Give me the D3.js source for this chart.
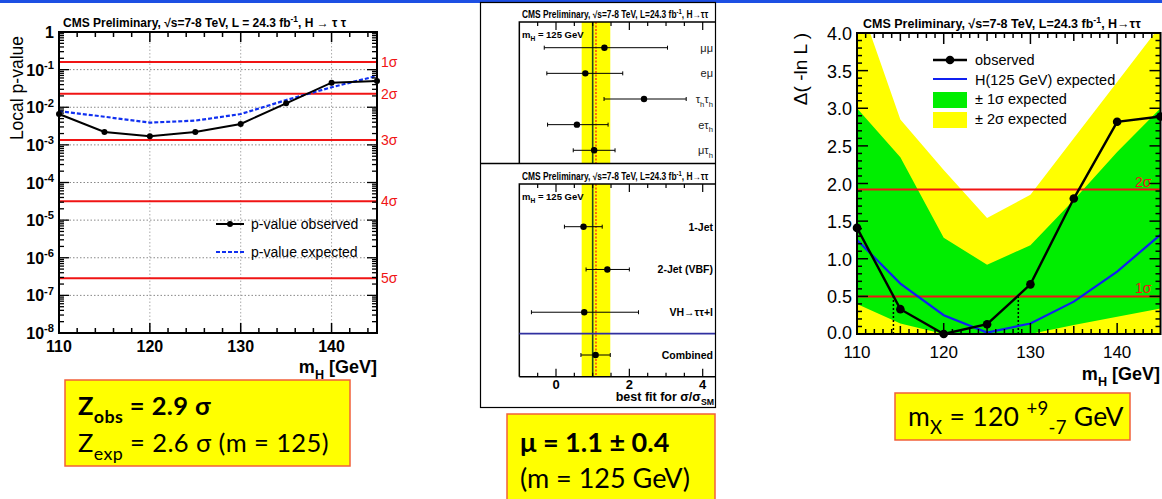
<!DOCTYPE html>
<html>
<head>
<meta charset="utf-8">
<script src="https://cdn.jsdelivr.net/npm/d3@7"></script>
<style>
body { margin: 0; background: #fff; }
svg { display: block; font-family: "Liberation Sans", Arial, sans-serif; }
</style>
</head>
<body>
<svg></svg>
<script>
// ---------- data ----------
const masses = [110, 115, 120, 125, 130, 135, 140, 145];

// left: local p-value scan
const pObserved = [6.6e-3, 2.2e-3, 1.7e-3, 2.2e-3, 3.6e-3, 1.27e-2, 0.045, 0.050];
const pExpected = [7.9e-3, 5.6e-3, 3.9e-3, 4.4e-3, 6.6e-3, 0.0155, 0.034, 0.068];
const sigmaLabels = ["1σ", "2σ", "3σ", "4σ", "5σ"];
const sigmaP = [0.1587, 0.02275, 1.35e-3, 3.17e-5, 2.87e-7];
const pExponents = [0, -1, -2, -3, -4, -5, -6, -7, -8];
const pMassTicks = [110, 120, 130, 140];

// middle: best fit signal strength per channel / category
const channels = ["μμ", "eμ", "τ_{h}τ_{h}", "eτ_{h}", "μτ_{h}"];
const channelMu = [1.32, 0.80, 2.40, 0.57, 1.04];
const channelLo = [-0.32, -0.25, 1.31, -0.23, 0.47];
const channelHi = [3.04, 1.82, 3.55, 1.42, 1.61];
const categories = ["1-Jet", "2-Jet (VBF)", "VH→ττ+l", "Combined"];
const categoryMu = [0.75, 1.40, 0.77, 1.08];
const categoryLo = [0.23, 0.82, -0.67, 0.68];
const categoryHi = [1.26, 2.00, 2.25, 1.48];
const muBand = [0.70, 1.48];
const muBest = 1.09;
const muSM = 1.0;
const muTickLabels = [0, 2, 4];

// right: likelihood scan
const nllObserved = [1.41, 0.33, 0.00, 0.13, 0.66, 1.80, 2.82, 2.89];
const nllExpected = [1.25, 0.67, 0.25, 0.02, 0.14, 0.43, 0.83, 1.32];
const band1Lo = [0.40, 0.14, 0.00, 0.00, 0.00, 0.12, 0.23, 0.34];
const band1Hi = [3.00, 2.35, 1.28, 0.92, 1.18, 1.78, 2.42, 3.00];
const band2Lo = [0, 0, 0, 0, 0, 0, 0, 0];
const band2Hi = [4.50, 2.85, 2.18, 1.54, 1.85, 2.60, 3.35, 4.10];
const nllSigma = [0.5, 1.92];
const nllSigmaLabels = ["1σ", "2σ"];
const nllCrossings = [114.2, 128.6];
const nllTicks = [0, 0.5, 1, 1.5, 2, 2.5, 3, 3.5, 4];
const nllMassTicks = [110, 120, 130, 140];

// ---------- setup ----------
const svg = d3.select("svg").attr("width", 1162).attr("height", 499);

// text with _{sub} and ^{sup} pieces
function richText(parent, x, y, str, size) {
    const t = parent.append("text").attr("x", x).attr("y", y).style("font-size", size + "px");
    const parts = str.split(/(_\{[^}]*\}|\^\{[^}]*\})/).filter(s => s.length);
    let shift = 0;
    parts.forEach(p => {
        let s = 0, fs = size, txt = p;
        if (p.startsWith("_{")) { s = size * 0.32; fs = size * 0.7; txt = p.slice(2, -1); }
        else if (p.startsWith("^{")) { s = -size * 0.42; fs = size * 0.7; txt = p.slice(2, -1); }
        t.append("tspan").attr("dy", s - shift).style("font-size", fs + "px").text(txt);
        shift = s;
    });
    return t;
}

svg.append("rect").attr("x", 0).attr("y", 0).attr("width", 1162).attr("height", 3).attr("fill", "#1d4fe3");

// ---------- left panel ----------
const xL = d3.scaleLinear().domain([110, 145]).range([59, 377]);
const yL = d3.scaleLog().domain([1e-8, 1]).range([333, 32]);
const left = svg.append("g");

// grid
pExponents.slice(1, -1).forEach(e => {
    left.append("line").attr("x1", xL(110)).attr("x2", xL(145))
        .attr("y1", yL(Math.pow(10, e))).attr("y2", yL(Math.pow(10, e)))
        .attr("stroke", "#888").attr("stroke-width", 1).attr("stroke-dasharray", "1.5,2");
});
pMassTicks.slice(1).forEach(m => {
    left.append("line").attr("x1", xL(m)).attr("x2", xL(m))
        .attr("y1", yL(1)).attr("y2", yL(1e-8))
        .attr("stroke", "#aaa").attr("stroke-width", 1).attr("stroke-dasharray", "1.5,2");
});

// sigma lines
sigmaP.forEach((p, i) => {
    left.append("line").attr("x1", xL(110)).attr("x2", xL(145))
        .attr("y1", yL(p)).attr("y2", yL(p))
        .attr("stroke", "#f01414").attr("stroke-width", 2);
    left.append("text").attr("x", xL(145) + 4).attr("y", yL(p) + 5)
        .attr("fill", "#f01414").style("font-size", "14px").text(sigmaLabels[i]);
});

// curves
left.append("path")
    .attr("d", d3.line().x((d, i) => xL(masses[i])).y(d => yL(d))(pExpected))
    .attr("fill", "none").attr("stroke", "#1030f0").attr("stroke-width", 2.2).attr("stroke-dasharray", "4,2");
left.append("path")
    .attr("d", d3.line().x((d, i) => xL(masses[i])).y(d => yL(d))(pObserved))
    .attr("fill", "none").attr("stroke", "#000").attr("stroke-width", 2);
left.selectAll("circle.obs").data(pObserved).enter().append("circle")
    .attr("class", "obs")
    .attr("cx", (d, i) => xL(masses[i])).attr("cy", d => yL(d)).attr("r", 3).attr("fill", "#000");

// frame + ticks
left.append("rect").attr("x", xL(110)).attr("y", yL(1))
    .attr("width", xL(145) - xL(110)).attr("height", yL(1e-8) - yL(1))
    .attr("fill", "none").attr("stroke", "#000").attr("stroke-width", 2);
d3.range(112, 145, 2).forEach(m => {
    const len = m % 10 === 0 ? 10 : 5;
    [[yL(1e-8), -len], [yL(1), len]].forEach(([y0, l]) => {
        left.append("line").attr("x1", xL(m)).attr("x2", xL(m)).attr("y1", y0).attr("y2", y0 + l)
            .attr("stroke", "#000").attr("stroke-width", 1.5);
    });
});
pExponents.slice(1).forEach(e => {
    d3.range(1, 10).forEach(k => {
        const v = k * Math.pow(10, e);
        const len = k === 1 ? 10 : 5;
        [[xL(110), len], [xL(145), -len]].forEach(([x0, l]) => {
            left.append("line").attr("x1", x0).attr("x2", x0 + l).attr("y1", yL(v)).attr("y2", yL(v))
                .attr("stroke", "#000").attr("stroke-width", 1.3);
        });
    });
});

// tick labels
pExponents.forEach(e => {
    const lab = e === 0 ? "1" : "10^{" + e + "}";
    richText(left, 54, yL(Math.pow(10, e)) + 6, lab, 16)
        .attr("text-anchor", "end").style("font-weight", "bold");
});
pMassTicks.forEach(m => {
    left.append("text").attr("x", xL(m)).attr("y", 352).attr("text-anchor", "middle")
        .style("font-size", "16px").style("font-weight", "bold").text(m);
});
richText(left, 377, 373, "m_{H} [GeV]", 18).attr("text-anchor", "end").style("font-weight", "bold");
left.append("text").attr("transform", "rotate(-90)").attr("x", -36).attr("y", 23)
    .attr("text-anchor", "end").style("font-size", "17.5px").text("Local p-value");
richText(left, 63, 27, "CMS  Preliminary, √s=7-8 TeV, L = 24.3 fb^{-1}, H → τ τ", 12)
    .style("font-weight", "bold");

// legend
left.append("line").attr("x1", 216).attr("x2", 244).attr("y1", 224).attr("y2", 224)
    .attr("stroke", "#000").attr("stroke-width", 2);
left.append("circle").attr("cx", 230).attr("cy", 224).attr("r", 3).attr("fill", "#000");
left.append("text").attr("x", 251).attr("y", 229).style("font-size", "14px").text("p-value observed");
left.append("line").attr("x1", 216).attr("x2", 244).attr("y1", 252).attr("y2", 252)
    .attr("stroke", "#1030f0").attr("stroke-width", 2.2).attr("stroke-dasharray", "4,2");
left.append("text").attr("x", 251).attr("y", 257).style("font-size", "14px").text("p-value expected");

// ---------- middle panel ----------
const xM = d3.scaleLinear().domain([0, 4]).range([556, 702.7]);
const yTop = d3.scalePoint().domain(channels).range([47.7, 150.3]);
const yBot = d3.scalePoint().domain(categories).range([226.7, 355]);
svg.append("clipPath").attr("id", "midclip").append("rect")
    .attr("x", 480).attr("y", 2).attr("width", 236).attr("height", 406);
const mid = svg.append("g").attr("clip-path", "url(#midclip)");

function muPanel(top, bottom, yS, labels, mu, lo, hi, bold, showAxis) {
    mid.append("rect").attr("x", xM(muBand[0])).attr("y", top)
        .attr("width", xM(muBand[1]) - xM(muBand[0])).attr("height", bottom - top).attr("fill", "#ffff00");
    mid.append("line").attr("x1", xM(muSM)).attr("x2", xM(muSM)).attr("y1", top).attr("y2", bottom)
        .attr("stroke", "#1f4a1f").attr("stroke-width", 1.6);
    mid.append("line").attr("x1", xM(muBest)).attr("x2", xM(muBest)).attr("y1", top).attr("y2", bottom)
        .attr("stroke", "#ff1010").attr("stroke-width", 1.2).attr("stroke-dasharray", "2,1.5");
    labels.forEach((c, i) => {
        const y = yS(c);
        mid.append("line").attr("x1", xM(lo[i])).attr("x2", xM(hi[i])).attr("y1", y).attr("y2", y)
            .attr("stroke", "#000").attr("stroke-width", 1);
        [lo[i], hi[i]].forEach(v => mid.append("line").attr("x1", xM(v)).attr("x2", xM(v))
            .attr("y1", y - 2).attr("y2", y + 2).attr("stroke", "#000").attr("stroke-width", 1));
        mid.append("circle").attr("cx", xM(mu[i])).attr("cy", y).attr("r", 3.2).attr("fill", "#000");
        const t = richText(mid, 713, y + 4, c, bold ? 10.5 : 11).attr("text-anchor", "end");
        if (bold) t.style("font-weight", "bold"); else t.attr("fill", "#222");
    });
    // frame
    mid.append("path").attr("d", `M${xM(-1)},${bottom}V${top}H716`)
        .attr("fill", "none").attr("stroke", "#000").attr("stroke-width", 1.5);
    d3.range(-0.5, 4.6, 0.5).forEach(v => {
        const len = v % 2 === 0 ? 8 : 4;
        mid.append("line").attr("x1", xM(v)).attr("x2", xM(v)).attr("y1", top).attr("y2", top + len)
            .attr("stroke", "#000").attr("stroke-width", 1.2);
        if (showAxis) mid.append("line").attr("x1", xM(v)).attr("x2", xM(v)).attr("y1", bottom).attr("y2", bottom - len)
            .attr("stroke", "#000").attr("stroke-width", 1.2);
    });
    richText(mid, 522, top + 16, "m_{H} = 125 GeV", 9.5).style("font-weight", "bold");
    const tg = mid.append("g").attr("transform", `translate(522,${top - 4}) scale(0.84,1)`);
    richText(tg, 0, 0, "CMS Preliminary, √s=7-8 TeV, L=24.3 fb^{-1}, H→ττ", 10)
        .style("font-weight", "bold");
}

muPanel(22, 163, yTop, channels, channelMu, channelLo, channelHi, false, false);
muPanel(184, 376.7, yBot, categories, categoryMu, categoryLo, categoryHi, true, true);
mid.append("line").attr("x1", xM(-1)).attr("x2", 716)
    .attr("y1", (yBot(categories[2]) + yBot(categories[3])) / 2)
    .attr("y2", (yBot(categories[2]) + yBot(categories[3])) / 2)
    .attr("stroke", "#3030a0").attr("stroke-width", 1.6);
mid.append("path").attr("d", `M${xM(-1)},376.7H716`).attr("stroke", "#000").attr("stroke-width", 1.5);
muTickLabels.forEach(v => {
    mid.append("text").attr("x", xM(v)).attr("y", 389).attr("text-anchor", "middle")
        .style("font-size", "13px").style("font-weight", "bold").text(v);
});
richText(mid, 714, 401, "best fit for σ/σ_{SM}", 12.5).attr("text-anchor", "end").style("font-weight", "bold");
// outer frame and divider
svg.append("rect").attr("x", 480.5).attr("y", 2.5).attr("width", 235).attr("height", 405)
    .attr("fill", "none").attr("stroke", "#000").attr("stroke-width", 1.2);
svg.append("line").attr("x1", 480).attr("x2", 716).attr("y1", 163.5).attr("y2", 163.5)
    .attr("stroke", "#000").attr("stroke-width", 1.5);

// ---------- right panel ----------
const xR = d3.scaleLinear().domain([110, 145]).range([857, 1160.5]);
const yR = d3.scaleLinear().domain([0, 4]).range([334, 33]);
svg.append("clipPath").attr("id", "rclip").append("rect")
    .attr("x", xR(110)).attr("y", yR(4)).attr("width", xR(145) - xR(110)).attr("height", yR(0) - yR(4));
const right = svg.append("g");
const bands = right.append("g").attr("clip-path", "url(#rclip)");
const area = (lo, hi) => d3.area().x((d, i) => xR(masses[i])).y0((d, i) => yR(lo[i])).y1((d, i) => yR(hi[i]))(masses);
bands.append("path").attr("d", area(band2Lo, band2Hi)).attr("fill", "#ffff00");
bands.append("path").attr("d", area(band1Lo, band1Hi)).attr("fill", "#00ee00");

nllSigma.forEach((v, i) => {
    right.append("line").attr("x1", xR(110)).attr("x2", xR(145)).attr("y1", yR(v)).attr("y2", yR(v))
        .attr("stroke", "#f01414").attr("stroke-width", 2);
    right.append("text").attr("x", 1135).attr("y", yR(v) - 3).attr("fill", "#f01414")
        .style("font-size", "14px").text(nllSigmaLabels[i]);
});
nllCrossings.forEach(m => {
    right.append("line").attr("x1", xR(m)).attr("x2", xR(m)).attr("y1", yR(0)).attr("y2", yR(0.5))
        .attr("stroke", "#000").attr("stroke-width", 1.5).attr("stroke-dasharray", "2,2");
});
const lineR = d3.line().x((d, i) => xR(masses[i])).y(d => yR(d));
right.append("path").attr("d", lineR(nllExpected)).attr("fill", "none")
    .attr("stroke", "#1020f0").attr("stroke-width", 2.2).attr("clip-path", "url(#rclip)");
right.append("path").attr("d", lineR(nllObserved)).attr("fill", "none")
    .attr("stroke", "#000").attr("stroke-width", 2.4);
right.selectAll("circle.obs").data(nllObserved).enter().append("circle")
    .attr("class", "obs")
    .attr("cx", (d, i) => xR(masses[i])).attr("cy", d => yR(d)).attr("r", 4.3).attr("fill", "#000");

// frame + ticks
right.append("rect").attr("x", xR(110)).attr("y", yR(4))
    .attr("width", xR(145) - xR(110)).attr("height", yR(0) - yR(4))
    .attr("fill", "none").attr("stroke", "#000").attr("stroke-width", 2);
d3.range(111, 145, 1).forEach(m => {
    const len = m % 10 === 0 ? 11 : (m % 5 === 0 ? 8 : 5);
    [[yR(0), -len], [yR(4), len]].forEach(([y0, l]) => {
        right.append("line").attr("x1", xR(m)).attr("x2", xR(m)).attr("y1", y0).attr("y2", y0 + l)
            .attr("stroke", "#000").attr("stroke-width", 1.5);
    });
});
d3.range(1, 40).forEach(k => {
    const v = k / 10;
    const len = k % 5 === 0 ? 11 : 5;
    [[xR(110), len], [xR(145), -len]].forEach(([x0, l]) => {
        right.append("line").attr("x1", x0).attr("x2", x0 + l).attr("y1", yR(v)).attr("y2", yR(v))
            .attr("stroke", "#000").attr("stroke-width", 1.5);
    });
});
nllTicks.forEach(v => {
    right.append("text").attr("x", 852).attr("y", yR(v) + (v === 0 ? 5 : 7)).attr("text-anchor", "end")
        .style("font-size", "18px").text(d3.format(".1f")(v));
});
nllMassTicks.forEach(m => {
    right.append("text").attr("x", xR(m)).attr("y", 358).attr("text-anchor", "middle")
        .style("font-size", "17px").text(m);
});
richText(right, 1160, 380, "m_{H} [GeV]", 18).attr("text-anchor", "end").style("font-weight", "bold");
right.append("text").attr("transform", "rotate(-90)").attr("x", -33).attr("y", 807)
    .attr("text-anchor", "end").style("font-size", "19px").text("Δ( -ln L )");
richText(right, 863, 28, "CMS Preliminary,  √s=7-8 TeV,  L=24.3 fb^{-1},  H→ττ", 12.5)
    .style("font-weight", "bold");

// legend
const legR = right.append("g");
legR.append("line").attr("x1", 933).attr("x2", 967).attr("y1", 60).attr("y2", 60)
    .attr("stroke", "#000").attr("stroke-width", 2.4);
legR.append("circle").attr("cx", 950).attr("cy", 60).attr("r", 4.3).attr("fill", "#000");
legR.append("line").attr("x1", 933).attr("x2", 967).attr("y1", 79).attr("y2", 79)
    .attr("stroke", "#1020f0").attr("stroke-width", 2.2);
legR.append("rect").attr("x", 933).attr("y", 92).attr("width", 34).attr("height", 16).attr("fill", "#00ee00");
legR.append("rect").attr("x", 933).attr("y", 112).attr("width", 34).attr("height", 16).attr("fill", "#ffff00");
["observed", "H(125 GeV) expected", "± 1σ expected", "± 2σ expected"].forEach((s, i) => {
    legR.append("text").attr("x", 975).attr("y", 65 + i * 19.5).style("font-size", "14.5px").text(s);
});

// ---------- summary boxes ----------
function box(x, y, w, h) {
    svg.append("rect").attr("x", x).attr("y", y).attr("width", w).attr("height", h)
        .attr("fill", "#ffff00").attr("stroke", "#f2603a").attr("stroke-width", 1.5);
}
const boxFont = "Lato, 'Open Sans', sans-serif";
box(65, 380, 285, 86);
richText(svg, 78, 415, "Z_{obs} = 2.9 σ", 25.5).style("font-family", boxFont)
    .style("font-weight", "bold").style("letter-spacing", "0.4px");
richText(svg, 78, 452, "Z_{exp} = 2.6 σ (m = 125)", 25.5).style("font-family", boxFont)
    .style("letter-spacing", "0.4px");
box(507, 414, 208, 100);
svg.append("text").attr("x", 520).attr("y", 452).style("font-family", boxFont)
    .style("font-size", "27px").style("font-weight", "bold").text("μ = 1.1 ± 0.4");
svg.append("text").attr("x", 520).attr("y", 488).style("font-family", boxFont)
    .style("font-size", "27px").text("(m = 125 GeV)");
box(895, 393, 235, 47);
richText(svg, 908, 426, "m_{X} = 120 ^{+9}_{-7} GeV", 26.5).style("font-family", boxFont)
    .style("letter-spacing", "0.3px");
</script>
</body>
</html>
